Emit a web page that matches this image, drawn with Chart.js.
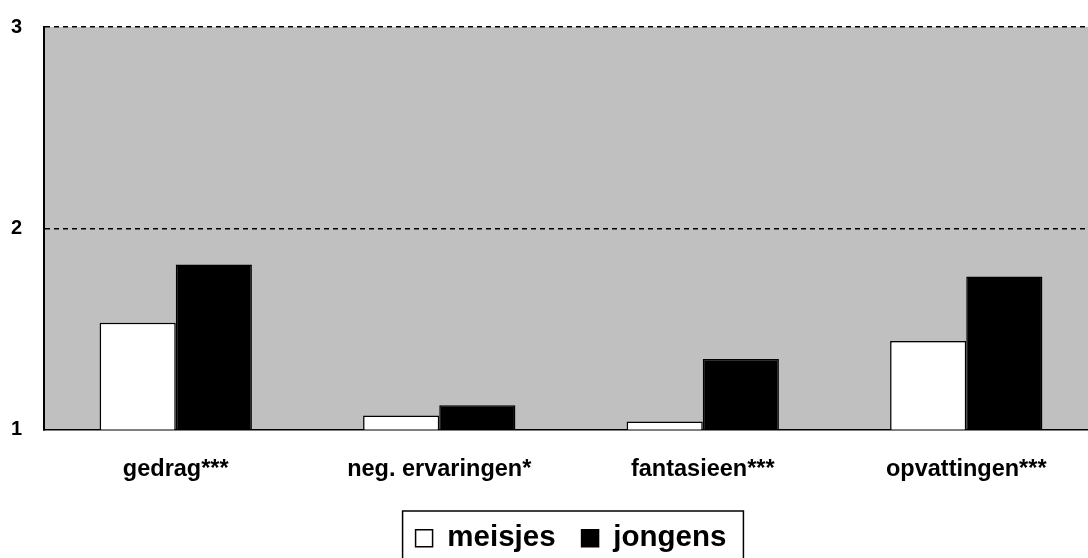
<!DOCTYPE html>
<html>
<head>
<meta charset="utf-8">
<script src="https://cdn.jsdelivr.net/npm/chart.js@4/dist/chart.umd.min.js"></script>
<style>
  html, body { margin: 0; padding: 0; background: #fff; overflow: hidden; }
  #wrap { position: relative; width: 1098px; height: 570px; margin-top: -7px; }
</style>
</head>
<body>
<div id="wrap"><canvas id="c"></canvas></div>
<script>
const categories = ['gedrag***', 'neg. ervaringen*', 'fantasieen***', 'opvattingen***'];
const meisjes = [1.53, 1.07, 1.04, 1.44];
const jongens = [1.82, 1.12, 1.35, 1.76];
const yTicks = [1, 2, 3];

const FONT = '"Liberation Sans", Arial, Helvetica, sans-serif';

const plotBg = {
  id: 'plotBg',
  beforeDraw(chart) {
    const a = chart.chartArea, ctx = chart.ctx;
    ctx.save();
    ctx.fillStyle = '#C0C0C0';
    ctx.fillRect(a.left, a.top, a.right - a.left, a.bottom - a.top);
    ctx.restore();
  }
};

const legendFrame = {
  id: 'legendFrame',
  afterDraw(chart) {
    const lg = chart.legend;
    if (!lg || !lg.legendHitBoxes || !lg.legendHitBoxes.length) return;
    const hb = lg.legendHitBoxes;
    const first = hb[0], last = hb[hb.length - 1];
    const left = first.left - 13;
    const right = last.left + last.width + 17;
    const top = first.top - 12.5;
    const ctx = chart.ctx;
    ctx.save();
    ctx.strokeStyle = '#000';
    ctx.lineWidth = 1.5;
    ctx.strokeRect(left, top, right - left, chart.height + 10 - top);
    ctx.restore();
  }
};

new Chart(document.getElementById('c'), {
  type: 'bar',
  data: {
    labels: categories,
    datasets: [
      { label: 'meisjes', data: meisjes, backgroundColor: '#FFFFFF', borderColor: '#000000', borderWidth: 1.5,
        categoryPercentage: 0.578, barPercentage: 1.0 },
      { label: 'jongens', data: jongens, backgroundColor: '#000000', borderColor: '#000000', borderWidth: 1.5,
        categoryPercentage: 0.578, barPercentage: 1.0 }
    ]
  },
  options: {
    responsive: true,
    maintainAspectRatio: false,
    animation: false,
    devicePixelRatio: 1,
    layout: { padding: { left: 11, top: 19, right: 0, bottom: 0 } },
    plugins: {
      legend: {
        position: 'bottom',
        fullSize: false,
        labels: {
          boxWidth: 17, boxHeight: 17, padding: 26, color: '#000',
          font: { family: FONT, size: 29.5, weight: 'bold' }
        }
      },
      tooltip: { enabled: false },
      title: { display: false }
    },
    scales: {
      x: {
        grid: { display: false, drawTicks: false },
        border: { display: true, color: '#000', width: 1.5 },
        ticks: { color: '#000', padding: 26, font: { family: FONT, size: 23.5, weight: 'bold' } },
        afterFit(scale) { scale.height = 68; }
      },
      y: {
        min: 1, max: 3,
        afterBuildTicks(scale) { scale.ticks = yTicks.map(v => ({ value: v })); },
        afterFit(scale) { scale.width = 33; },
        grid: {
          drawTicks: false,
          color: ctx => (ctx.tick && ctx.tick.value === 1) ? 'rgba(0,0,0,0)' : '#000',
          lineWidth: 1.5
        },
        border: { display: true, color: '#000', width: 2, dash: [5, 4] },
        ticks: { color: '#000', padding: 22, font: { family: FONT, size: 20, weight: 'bold' } }
      }
    }
  },
  plugins: [plotBg, legendFrame]
});
</script>
</body>
</html>
